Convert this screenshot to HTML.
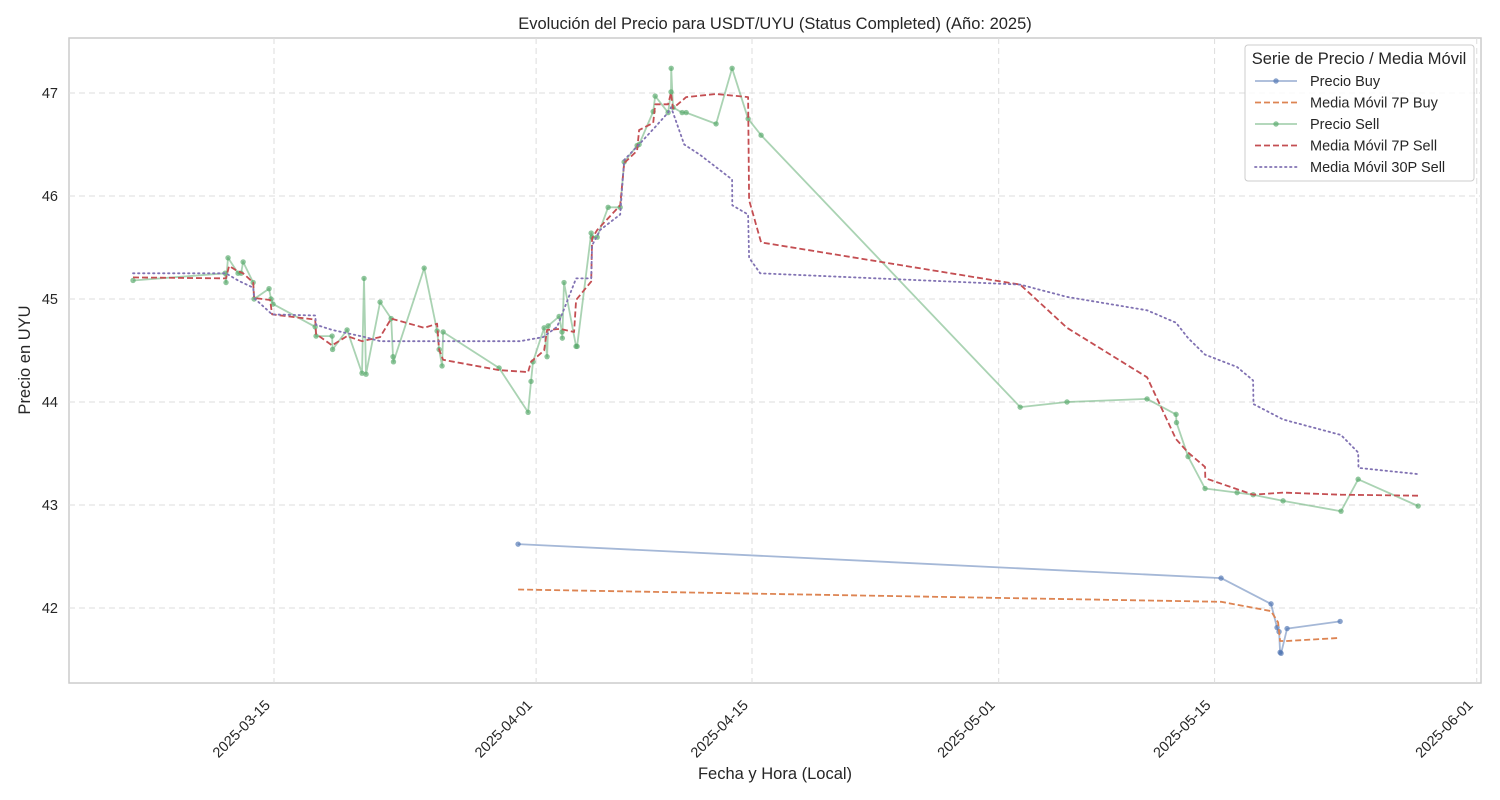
<!DOCTYPE html>
<html><head><meta charset="utf-8">
<style>
html,body{margin:0;padding:0;background:#fff;}
svg{display:block;font-family:"Liberation Sans","DejaVu Sans",sans-serif;}
</style></head>
<body>
<svg id="chart" width="1500" height="800" viewBox="0 0 1500 800"></svg>
<script>
const tickDays=[14,31,45,61,75,92];
const tickLabels=["2025-03-15","2025-04-01","2025-04-15","2025-05-01","2025-05-15","2025-06-01"];
const yTicks=[42,43,44,45,46,47];
const sellDays=[4.86,10.83,10.89,11.02,11.67,11.87,12.00,12.65,12.71,13.68,13.81,13.94,16.67,16.73,17.77,17.80,18.74,19.71,19.84,19.97,20.88,21.60,21.72,21.75,23.74,24.58,24.71,24.90,24.97,28.60,30.48,30.67,30.80,31.52,31.71,31.78,32.49,32.68,32.70,32.81,33.59,33.66,34.57,34.63,34.96,35.67,36.45,36.71,37.55,37.68,38.59,38.72,39.56,39.75,39.76,39.88,40.47,40.73,42.67,43.71,44.75,45.59,62.39,65.43,70.62,72.50,72.53,73.28,74.38,76.46,77.50,79.44,83.20,84.31,88.20];
const sellPrices=[45.18,45.25,45.16,45.40,45.25,45.25,45.36,45.16,45.00,45.10,45.00,44.95,44.73,44.64,44.64,44.51,44.70,44.28,45.20,44.27,44.97,44.81,44.44,44.39,45.30,44.69,44.51,44.35,44.68,44.33,43.90,44.20,44.39,44.72,44.44,44.74,44.83,44.68,44.62,45.16,44.54,44.54,45.64,45.60,45.60,45.89,45.89,46.33,46.49,46.50,46.82,46.97,46.81,47.01,47.24,46.86,46.81,46.81,46.70,47.24,46.75,46.59,43.95,44.00,44.03,43.88,43.80,43.47,43.16,43.12,43.10,43.04,42.94,43.25,42.99];
const buyDays=[29.83,75.42,78.66,79.05,79.18,79.25,79.31,79.70,83.14];
const buyPrices=[42.62,42.29,42.04,41.81,41.77,41.57,41.56,41.80,41.87];
const maBuyDays=[29.83,75.42,78.66,79.12,79.25,79.70,83.14];
const maBuyValues=[42.18,42.06,41.97,41.86,41.68,41.68,41.71];
const ma7SellDays=[4.86,10.89,11.09,11.54,12.00,12.65,12.71,13.75,13.88,16.67,16.73,17.77,18.74,19.71,20.88,21.60,23.74,24.58,24.71,24.97,28.60,30.48,30.67,31.52,31.71,32.56,33.46,33.59,34.57,34.63,34.96,36.45,36.71,37.55,37.68,38.59,38.72,39.56,39.75,39.88,40.73,42.67,44.75,44.81,45.59,62.39,65.43,70.62,72.50,73.28,74.38,74.40,77.50,79.44,83.20,88.20];
const ma7SellValues=[45.21,45.20,45.32,45.28,45.25,45.16,45.01,44.99,44.85,44.80,44.66,44.55,44.64,44.59,44.63,44.81,44.72,44.76,44.51,44.41,44.31,44.29,44.39,44.50,44.70,44.71,44.68,44.99,45.17,45.59,45.67,45.91,46.32,46.44,46.64,46.71,46.89,46.89,47.00,46.85,46.96,46.99,46.96,45.96,45.55,45.14,44.72,44.24,43.64,43.51,43.37,43.26,43.10,43.12,43.10,43.09];
const ma30SellDays=[4.86,10.89,11.67,12.65,12.71,13.88,16.67,16.73,17.77,19.91,20.88,29.96,31.45,32.36,33.59,34.57,34.63,35.15,36.45,36.71,37.55,38.72,39.56,39.75,39.88,40.60,41.63,43.71,43.72,44.75,44.81,45.53,62.39,65.43,70.62,72.50,73.28,74.38,76.46,77.50,77.52,79.44,83.20,84.31,84.33,88.20];
const ma30SellValues=[45.25,45.25,45.18,45.11,45.01,44.85,44.84,44.75,44.70,44.63,44.59,44.59,44.63,44.73,45.20,45.20,45.52,45.67,45.82,46.35,46.48,46.67,46.81,46.86,46.81,46.50,46.40,46.16,45.91,45.82,45.40,45.25,45.14,45.02,44.89,44.77,44.62,44.46,44.34,44.21,43.98,43.83,43.68,43.51,43.36,43.30];

const L=69,R=1481,T=38,B=683;
const X=d=>58.1+d*15.42;
const Y=p=>93+(47-p)*103;
const NS="http://www.w3.org/2000/svg";
const svg=document.getElementById('chart');
function mk(tag,attrs,parent){const e=document.createElementNS(NS,tag);for(const k in attrs)e.setAttribute(k,attrs[k]);(parent||svg).appendChild(e);return e;}

const frame=mk('rect',{x:L,y:T,width:R-L,height:B-T,fill:'#fff',stroke:'#cccccc','stroke-width':1.5});



const gx=mk('g',{});


tickDays.forEach((d,i)=>{
  const x=X(d);
  const gl=mk('line',{x1:x,x2:x,y1:T,y2:B,stroke:'#dddddd','stroke-dasharray':'6,4','stroke-width':1},gx);
  
  
  const ax=x-3, ay=B+23;
  const t=mk('text',{x:ax,y:ay,'font-size':14.5,fill:'#262626','text-anchor':'end',transform:`rotate(-45 ${ax} ${ay})`},gx);
  t.textContent=tickLabels[i];
  
  
});
const gy=mk('g',{});


yTicks.forEach(v=>{
  const y=Y(v);
  const gl=mk('line',{x1:L,x2:R,y1:y,y2:y,stroke:'#dddddd','stroke-dasharray':'6,4','stroke-width':1},gy);
  
  
  const t=mk('text',{x:L-11,y:y+5,'font-size':14.5,fill:'#262626','text-anchor':'end'},gy);
  t.textContent=String(v);
  
  
});

function line(days,vals,color,opts,name){
  const pts=days.map((d,i)=>X(d).toFixed(1)+','+Y(vals[i]).toFixed(1)).join(' ');
  const a={points:pts,fill:'none',stroke:color,'stroke-width':opts.w||2,'stroke-opacity':opts.op||1,'stroke-linejoin':'round'};
  if(opts.dash)a['stroke-dasharray']=opts.dash;
  if(opts.cap)a['stroke-linecap']=opts.cap;
  const p=mk('polyline',a);
  
  
  return p;
}
function markers(days,vals,color,name){
  const g=mk('g',{});
  
  
  days.forEach((d,i)=>{
    const c=mk('circle',{cx:X(d),cy:Y(vals[i]),r:2.7,fill:color,'fill-opacity':0.65},g);
    
    
  });
}
line(buyDays,buyPrices,'#4c72b0',{op:0.5,w:1.8},'precio-buy-line');
markers(buyDays,buyPrices,'#4c72b0','precio-buy-markers');
line(maBuyDays,maBuyValues,'#dd8452',{dash:'6,3',w:1.8},'media-movil-7p-buy-line');
line(sellDays,sellPrices,'#55a868',{op:0.5,w:1.8},'precio-sell-line');
markers(sellDays,sellPrices,'#55a868','precio-sell-markers');
line(ma7SellDays,ma7SellValues,'#c44e52',{dash:'6,3',w:1.8},'media-movil-7p-sell-line');
line(ma30SellDays,ma30SellValues,'#8172b3',{dash:'1.5,3.5',w:1.8,cap:'round'},'media-movil-30p-sell-line');

const tt=mk('text',{x:775,y:29,'font-size':16.5,fill:'#262626','text-anchor':'middle'});
tt.textContent='Evolución del Precio para USDT/UYU (Status Completed) (Año: 2025)';


const xl=mk('text',{x:775,y:779,'font-size':16.5,fill:'#262626','text-anchor':'middle'});
xl.textContent='Fecha y Hora (Local)';


const yl=mk('text',{x:30,y:360,'font-size':16.5,fill:'#262626','text-anchor':'middle',transform:'rotate(-90 30 360)'});
yl.textContent='Precio en UYU';



const lg=mk('g',{});


mk('rect',{x:1245,y:45,width:229,height:136,rx:3,fill:'#fff','fill-opacity':0.85,stroke:'#cccccc'},lg);
const lt=mk('text',{x:1359,y:64,'font-size':16.5,fill:'#262626','text-anchor':'middle'},lg);
lt.textContent='Serie de Precio / Media Móvil';


const legNames=['Precio Buy','Media Móvil 7P Buy','Precio Sell','Media Móvil 7P Sell','Media Móvil 30P Sell'];
const legColors=['#4c72b0','#dd8452','#55a868','#c44e52','#8172b3'];
const legDash=[null,'6,3',null,'6,3','1.5,3.5'];
legNames.forEach((n,i)=>{
  const y=81+i*21.5;
  const e=mk('g',{},lg);
  
  
  const a={x1:1255,x2:1297,y1:y,y2:y,stroke:legColors[i],'stroke-width':1.8};
  if(legDash[i]){a['stroke-dasharray']=legDash[i];}
  if(i===4)a['stroke-linecap']='round';
  if(i===0||i===2)a['stroke-opacity']=0.5;
  mk('line',a,e);
  if(i===0||i===2)mk('circle',{cx:1276,cy:y,r:2.7,fill:legColors[i],'fill-opacity':0.65},e);
  const t=mk('text',{x:1310,y:y+5,'font-size':14.5,fill:'#262626'},e);
  t.textContent=n;
});
</script>
</body></html>
